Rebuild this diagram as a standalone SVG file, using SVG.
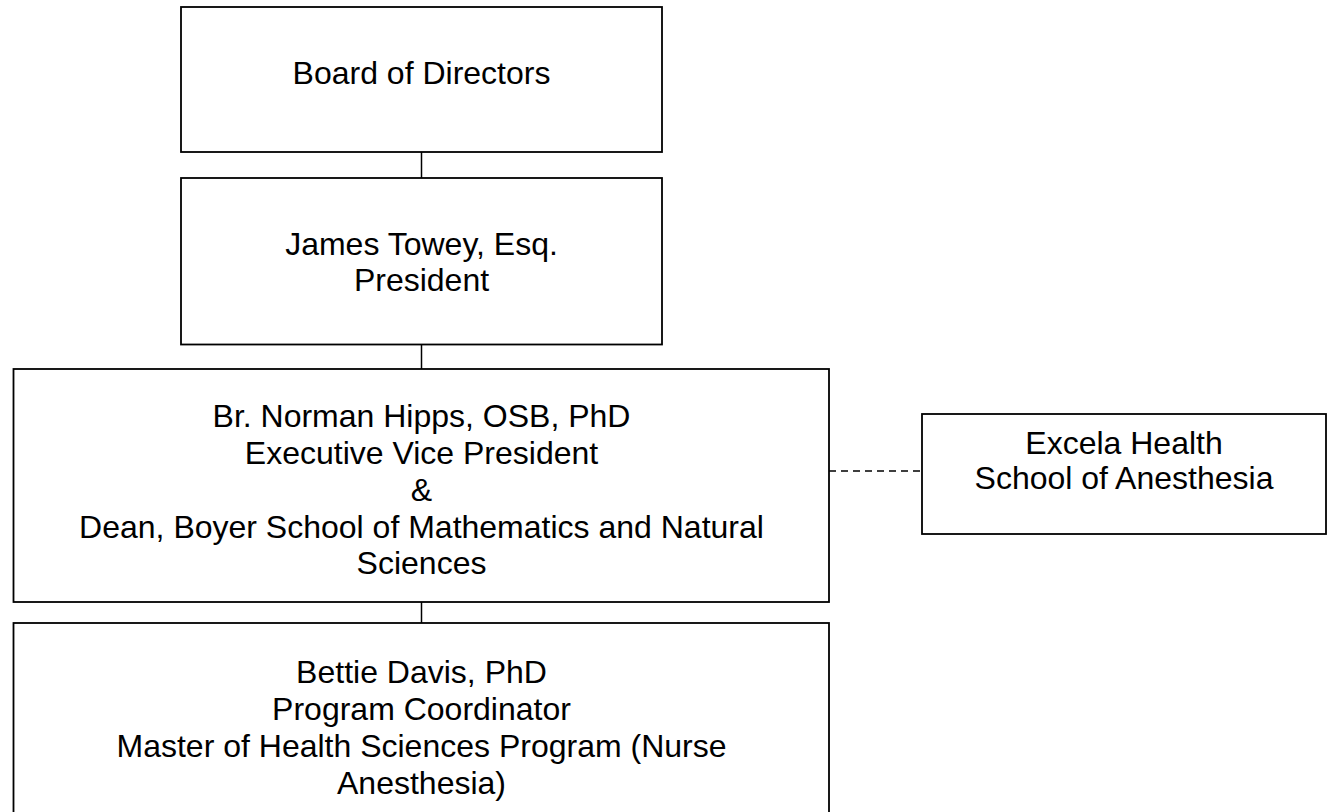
<svg xmlns="http://www.w3.org/2000/svg" width="1333" height="812" viewBox="0 0 1333 812">
<style>
.box{fill:#fff;stroke:#000;stroke-width:1.8}
.t{font-family:"Liberation Sans",Arial,sans-serif;font-size:32px;fill:#000;text-anchor:middle}
.c{stroke:#000;stroke-width:1.5;fill:none}
.d{stroke:#000;stroke-width:1.5;fill:none;stroke-dasharray:7 5}
</style>
<rect width="1333" height="812" fill="#fff"/>
<g id="connectors">
<line class="c" x1="421.5" y1="152" x2="421.5" y2="178"/>
<line class="c" x1="421.5" y1="344.5" x2="421.5" y2="369"/>
<line class="c" x1="421.5" y1="602" x2="421.5" y2="623"/>
<line class="d" x1="829" y1="471" x2="922" y2="471"/>
</g>
<g id="board">
<rect class="box" x="181" y="7" width="481" height="145"/>
<text class="t" x="421.5" y="84">Board of Directors</text>
</g>
<g id="president">
<rect class="box" x="181" y="178" width="481" height="166.5"/>
<text class="t" x="421.5" y="254.5">James Towey, Esq.</text>
<text class="t" x="421.5" y="291">President</text>
</g>
<g id="evp">
<rect class="box" x="13.5" y="369" width="815.5" height="233"/>
<text class="t" x="421.5" y="427">Br. Norman Hipps, OSB, PhD</text>
<text class="t" x="421.5" y="464">Executive Vice President</text>
<text class="t" x="421.5" y="500.5">&amp;</text>
<text class="t" x="421.5" y="537.5">Dean, Boyer School of Mathematics and Natural</text>
<text class="t" x="421.5" y="574">Sciences</text>
</g>
<g id="excela">
<rect class="box" x="922" y="414" width="404" height="120"/>
<text class="t" x="1124" y="453.5">Excela Health</text>
<text class="t" x="1124" y="488.5">School of Anesthesia</text>
</g>
<g id="coordinator">
<rect class="box" x="13.5" y="623" width="815.5" height="200"/>
<text class="t" x="421.5" y="683">Bettie Davis, PhD</text>
<text class="t" x="421.5" y="720">Program Coordinator</text>
<text class="t" x="421.5" y="756.5">Master of Health Sciences Program (Nurse</text>
<text class="t" x="421.5" y="793.5">Anesthesia)</text>
</g>
</svg>
